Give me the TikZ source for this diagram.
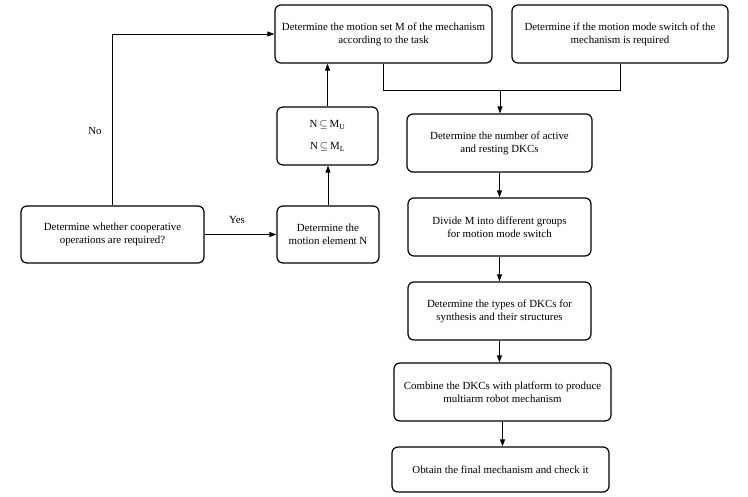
\documentclass[tikz,border=0pt]{standalone}
\usepackage{fontspec}
\setmainfont{Liberation Serif}
\usetikzlibrary{arrows.meta,positioning}
\tikzset{
  box/.style={draw, line width=1.2pt, rounded corners=6pt, align=center, inner sep=0pt,
    font=\fontsize{10.9}{12.7}\selectfont},
  conn/.style={line width=0.9pt},
  arr/.style={conn, -{Triangle[length=7pt,width=5pt]}},
  lbl/.style={font=\fontsize{10.9}{12.7}\selectfont, inner sep=0pt}
}
\begin{document}
\begin{tikzpicture}[x=1pt,y=-1pt]
\useasboundingbox (0,0) rectangle (748,496);
\node[box, minimum width=217pt, minimum height=58pt] (A) at (383.5,34) {Determine the motion set M of the mechanism\\according to the task};
\node[box, minimum width=216pt, minimum height=58pt] (B) at (620,34) {Determine if the motion mode switch of the\\mechanism is required};
\node[box, minimum width=185pt, minimum height=58pt] (C) at (499.5,143) {Determine the number of active\\and resting DKCs};
\node[box, minimum width=183pt, minimum height=58pt] (D) at (499.5,227) {Divide M into different groups\\for motion mode switch};
\node[box, minimum width=183pt, minimum height=58pt] (E) at (499.5,311) {Determine the types of DKCs for\\synthesis and their structures};
\node[box, minimum width=217pt, minimum height=58pt] (F) at (502.5,392) {Combine the DKCs with platform to produce\\multiarm robot mechanism};
\node[box, minimum width=217pt, minimum height=45pt] (G) at (500.5,469.5) {Obtain the final mechanism and check it};
\node[box, minimum width=183pt, minimum height=57pt] (H) at (112.5,234.5) {Determine whether cooperative\\operations are required?};
\node[box, minimum width=102pt, minimum height=57pt] (I) at (328,234.5) {Determine the\\motion element N};
\node[box, minimum width=101pt, minimum height=58pt, font=\fontsize{10.9}{22}\selectfont] (J) at (327.5,136) {N$\,\subseteq\,$M\textsubscript{U}\\N$\,\subseteq\,$M\textsubscript{L}};
\coordinate (jA) at (383.5,90);
\coordinate (jB) at (620,90);
\coordinate (jM) at (500,90);
\draw[conn] (A.south) -- (jA) -- (jB) -- (B.south);
\draw[arr] (jM) -- (jM |- C.north);
\draw[arr] (C.south) -- (C.south |- D.north);
\draw[arr] (D.south) -- (D.south |- E.north);
\draw[arr] (E.south) -- (E.south |- F.north);
\draw[arr] (F.south) -- (F.south |- G.north);
\draw[arr] (H.east) -- (I.west);
\draw[arr] (I.north) -- (I.north |- J.south);
\draw[arr] (J.north) -- (J.north |- A.south);
\draw[arr] (H.north) |- (A.west);
\node[lbl] (no) at (95,131) {No};
\node[lbl] (yes) at (237,220) {Yes};
\end{tikzpicture}
\end{document}
